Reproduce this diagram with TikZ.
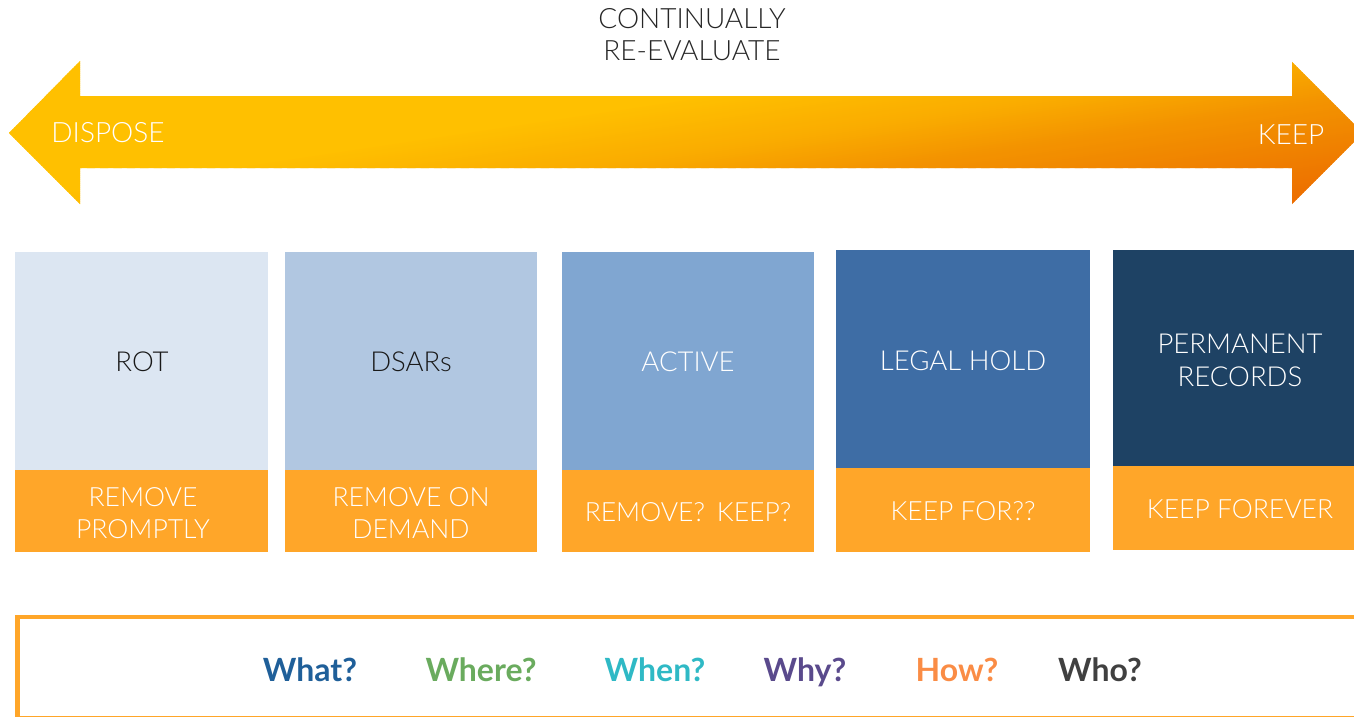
\documentclass[tikz,border=0pt]{standalone}
\usepackage{fontspec}
\setmainfont{Lato Light}[BoldFont={Lato Bold}]
\definecolor{czero}{HTML}{FFC000}
\definecolor{cone}{HTML}{FAAC00}
\definecolor{ctwo}{HTML}{F39300}
\definecolor{cthree}{HTML}{EC6C00}
\definecolor{boxA}{HTML}{DCE6F2}
\definecolor{boxB}{HTML}{B1C7E1}
\definecolor{boxC}{HTML}{80A6D1}
\definecolor{boxD}{HTML}{3E6DA5}
\definecolor{boxE}{HTML}{1E4264}
\definecolor{org}{HTML}{FFA629}
\definecolor{qWhat}{HTML}{1F5F99}
\definecolor{qWhere}{HTML}{6AAB5E}
\definecolor{qWhen}{HTML}{2FB9C5}
\definecolor{qWhy}{HTML}{5A4A8C}
\definecolor{qHow}{HTML}{FA8C45}
\definecolor{qWho}{HTML}{404040}
\begin{document}
\begin{tikzpicture}[x=1pt,y=-1pt,
  panel/.style={anchor=north west, inner sep=0pt, outer sep=0pt, minimum width=253pt, minimum height=218pt},
  orangepanel/.style={anchor=north west, inner sep=0pt, outer sep=0pt, fill=org, minimum width=253pt, minimum height=82pt},
  toplabel/.style={align=center, inner sep=0pt, font=\fontsize{27.5}{33}\selectfont},
  botlabel/.style={align=center, inner sep=0pt, text=white, font=\fontsize{26.5}{32.5}\selectfont},
  qword/.style={anchor=base, font=\fontsize{32}{36}\selectfont\bfseries},
  arrowtext/.style={text=white, inner sep=0pt, font=\fontsize{28}{32}\selectfont}]
\useasboundingbox (0,0) rectangle (1354,717);
\begin{scope}
\clip (0,0) rectangle (1354,717);
% arrow (gradient built from thin slanted strips)
\coordinate (ltip) at (9,133);
\coordinate (rtip) at (1363,133);
\begin{scope}
\clip (ltip) -- (80,61) -- (80,96) -- (1292,96) -- (1292,62) -- (rtip) -- (1292,204) -- (1292,168) -- (80,168) -- (80,204) -- cycle;
\foreach \t in {60,62,...,412}{
  \pgfmathtruncatemacro{\seg}{\t<200 ? 0 : (\t<256 ? 1 : (\t<300 ? 2 : 3))}
  \ifcase\seg \colorlet{cur}{czero}
  \or \pgfmathtruncatemacro{\p}{(\t-200)/56*100}\colorlet{cur}{cone!\p!czero}
  \or \pgfmathtruncatemacro{\p}{(\t-256)/44*100}\colorlet{cur}{ctwo!\p!cone}
  \or \pgfmathtruncatemacro{\p}{min(100,\t-300)}\colorlet{cur}{cthree!\p!ctwo}
  \fi
  \fill[cur] (-5,\t) -- (1370,\t-206) -- (1370,\t-203) -- (-5,\t+3) -- cycle;
}
\end{scope}
\node[arrowtext] (dispose) at (108,133) {DISPOSE};
\node[arrowtext] (keep) at (1291,135) {KEEP};
\node[align=center, inner sep=0pt, text=black!85, font=\fontsize{28}{32}\selectfont] (cont) at (692,35) {CONTINUALLY\\RE-EVALUATE};
% boxes
\node[panel, fill=boxA, minimum width=253pt] (rot) at (15,252) {};
\node[orangepanel, minimum width=253pt] (rotb) at (15,470) {};
\node[panel, fill=boxB, minimum width=252pt] (dsar) at (285,252) {};
\node[orangepanel, minimum width=252pt] (dsarb) at (285,470) {};
\node[panel, fill=boxC, minimum width=252pt] (active) at (562,252) {};
\node[orangepanel, minimum width=252pt] (activeb) at (562,470) {};
\node[panel, fill=boxD, minimum width=254pt] (legal) at (836,250) {};
\node[orangepanel, minimum width=254pt, minimum height=84pt] (legalb) at (836,468) {};
\node[panel, fill=boxE, minimum width=254pt, minimum height=216pt] (perm) at (1113,250) {};
\node[orangepanel, minimum width=254pt, minimum height=84pt] (permb) at (1113,466) {};
% labels
\node[toplabel, text=black!90] (rotl) at (142,362) {ROT};
\node[toplabel, text=black!90] (dsarl) at (411,362) {DSARs};
\node[toplabel, text=white] (activel) at (688,362) {ACTIVE};
\node[toplabel, text=white] (legall) at (963,360.5) {LEGAL HOLD};
\node[toplabel, text=white] (perml) at (1240,360) {PERMANENT\\RECORDS};
\node[botlabel] (rotbl) at (143,513) {REMOVE\\PROMPTLY};
\node[botlabel] (dsarbl) at (411,513) {REMOVE ON\\DEMAND};
\node[botlabel] (activebl) at (688,512.5) {REMOVE?\hspace{0.45em}KEEP?};
\node[botlabel] (legalbl) at (963,511.5) {KEEP FOR??};
\node[botlabel] (permbl) at (1240,509.5) {KEEP FOREVER};
% bottom frame
\draw[org, line width=4.5pt] (17.5,617) rectangle (1380,718.5);
\node[qword, text=qWhat] (what) at (310,681) {What?};
\node[qword, text=qWhere] (where) at (481,681) {Where?};
\node[qword, text=qWhen] (when) at (655,681) {When?};
\node[qword, text=qWhy] (why) at (805,681) {Why?};
\node[qword, text=qHow] (how) at (957,681) {How?};
\node[qword, text=qWho] (who) at (1100,681) {Who?};
\end{scope}
\end{tikzpicture}
\end{document}
